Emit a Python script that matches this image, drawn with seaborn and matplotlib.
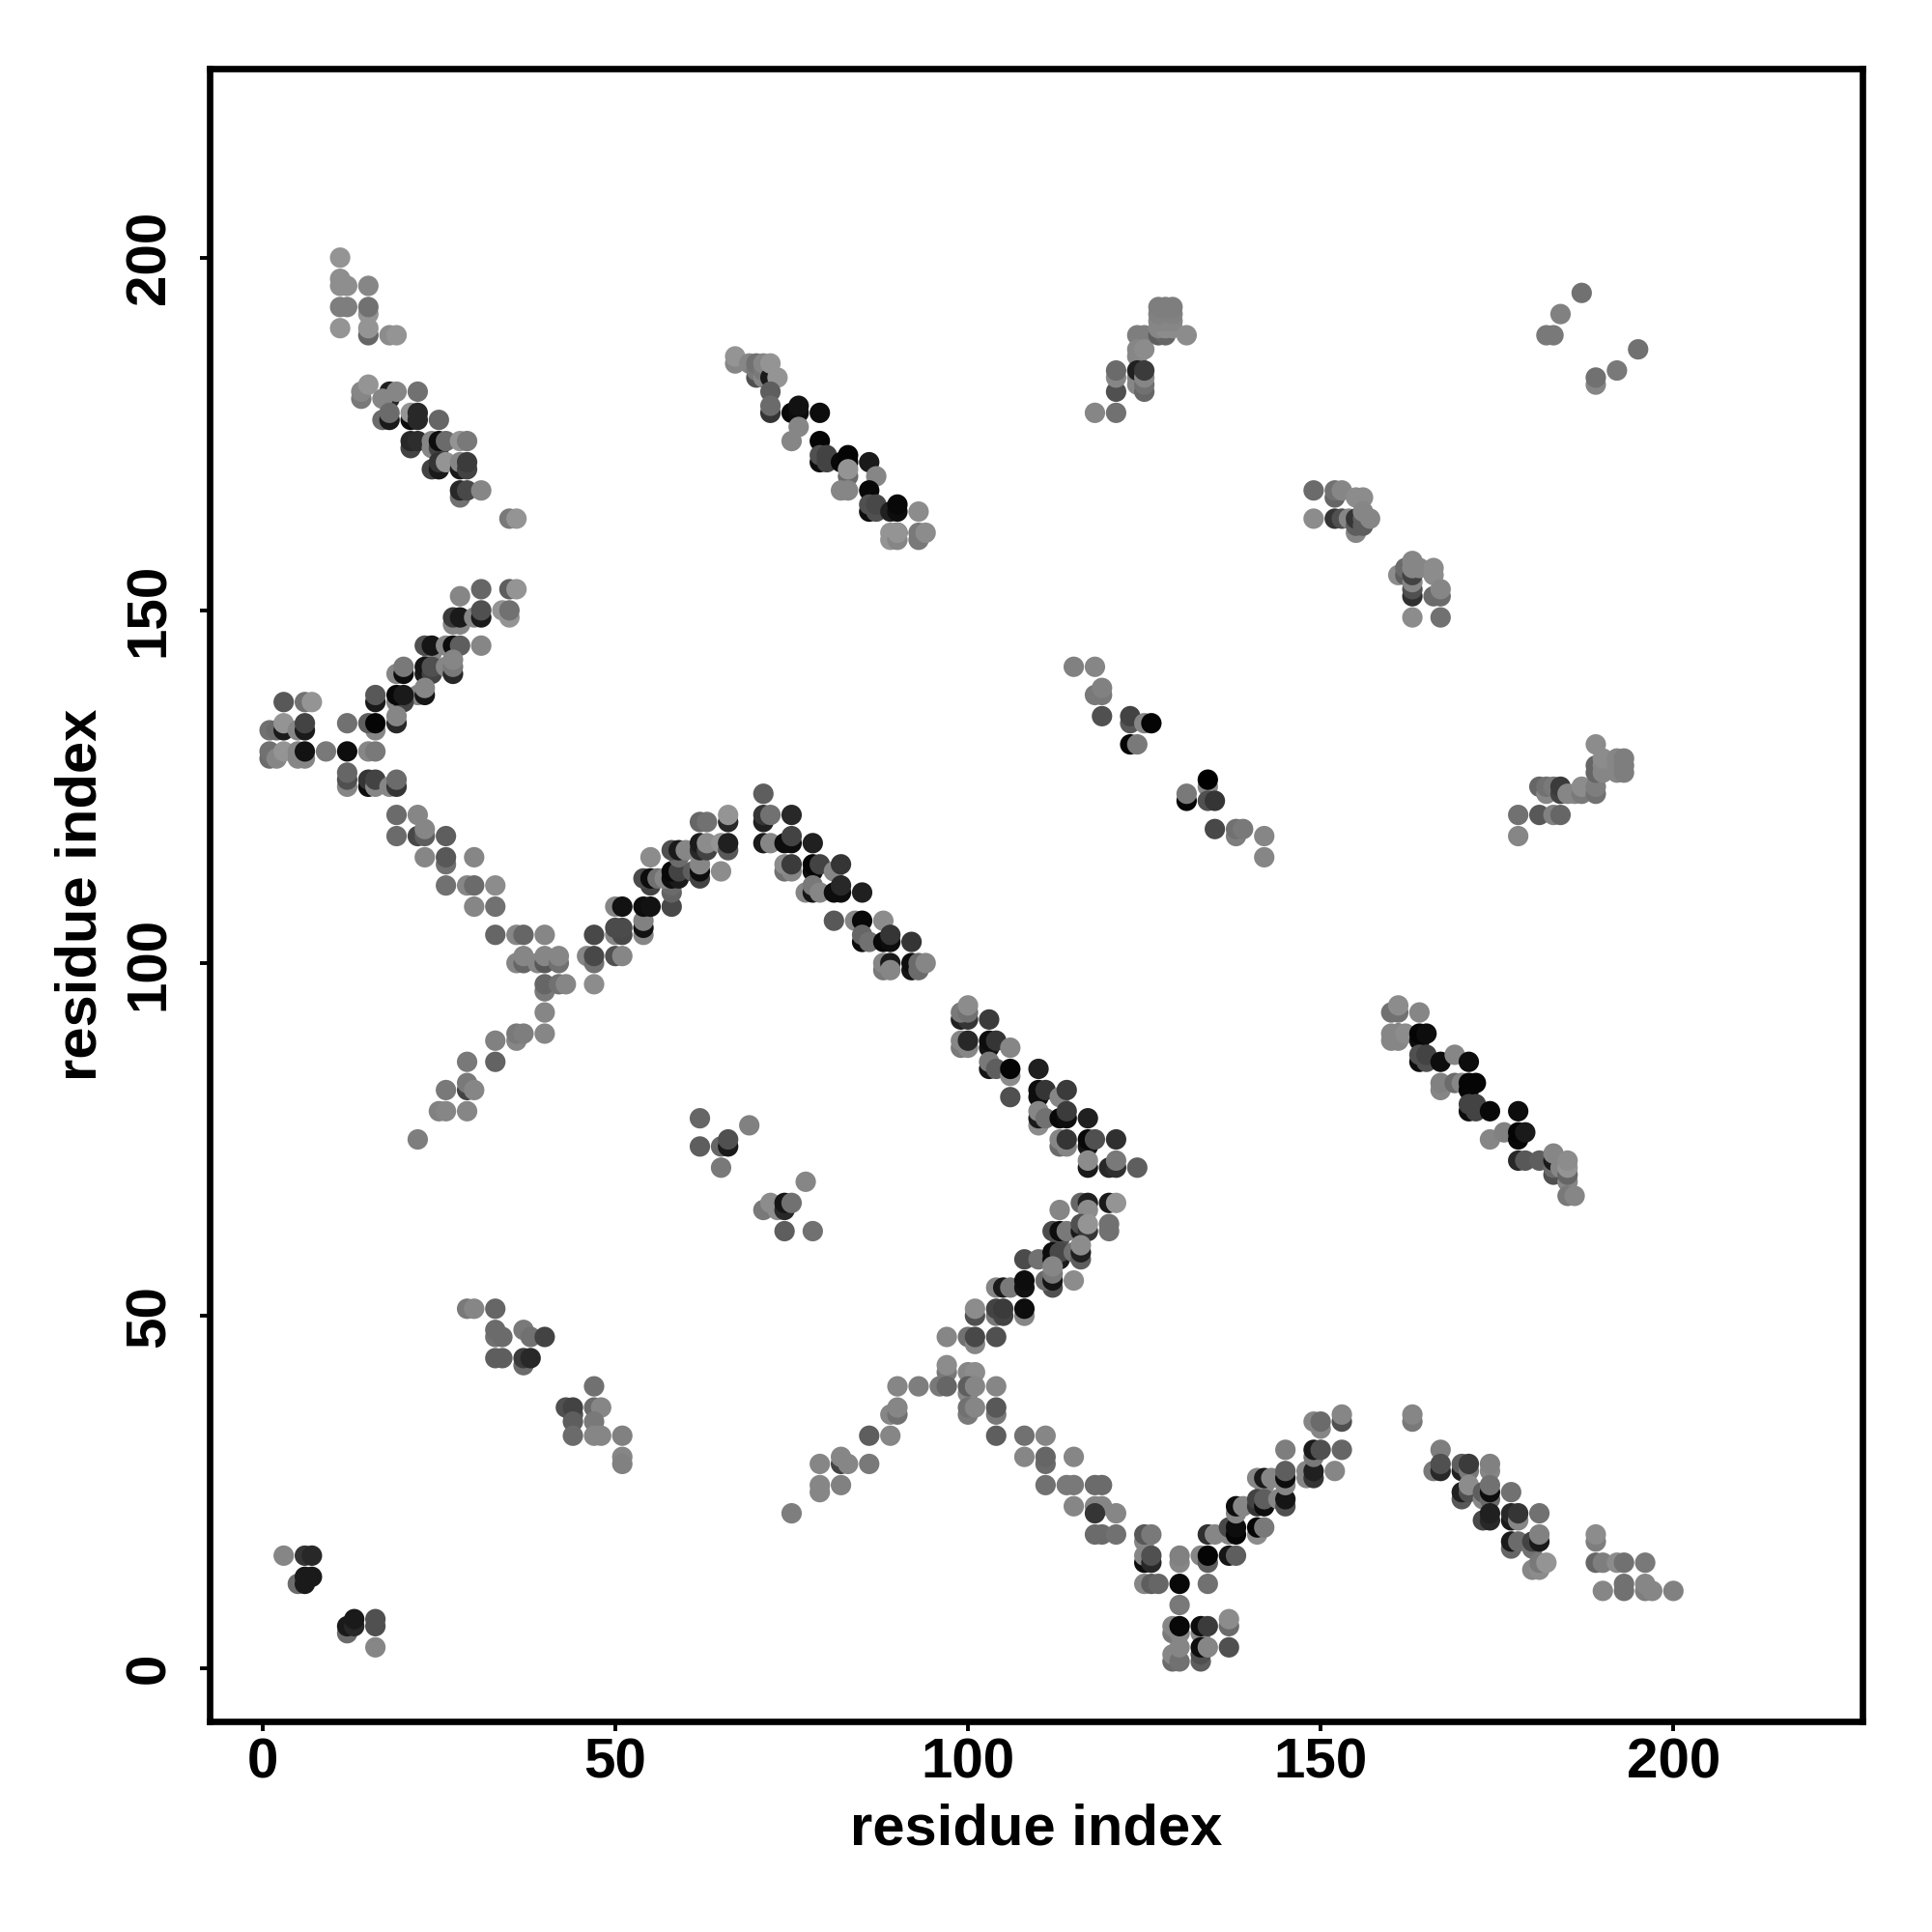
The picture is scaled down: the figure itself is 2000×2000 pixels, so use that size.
import pandas as pd
import matplotlib
matplotlib.use("Agg")
import matplotlib.pyplot as plt
import seaborn as sns

# contacts: (residue i, residue j, grey level)
block_top_left = [
    (11,200,.55),(11,197,.53),(11,196,.53),(12,196,.53),(15,196,.5),(11,193,.47),(12,193,.47),
    (15,192,.55),(15,193,.42),(11,190,.55),(15,189,.38),(15,190,.55),(18,189,.52),(19,189,.55),
    (14,180,.45),(14,181,.5),(15,182,.55),(18,181,.12),(18,180,.15),(17,180,.5),(19,181,.5),(22,181,.42),
    (17,177,.4),(18,177,.1),(18,178,.4),(21,177,.05),(21,178,.55),(22,177,.15),(22,178,.15),(25,177,.38),
    (21,173,.25),(21,174,.15),(22,174,.17),(24,173,.5),(24,174,.5),(25,173,.25),(25,174,.05),(26,174,.4),(28,174,.55),(29,174,.45),
    (24,170,.25),(25,170,.1),(25,171,.2),(26,171,.55),(28,170,.1),(28,171,.5),(29,170,.25),(29,171,.22),
    (28,166,.42),(28,167,.15),(29,167,.27),(31,167,.5),(35,163,.45),(36,163,.55),
]
block_left_up = [
    (28,152,.5),(31,153,.38),(35,153,.35),(36,153,.55),
    (27,148,.5),(28,148,.5),(27,149,.22),(28,149,.1),(30,149,.5),(31,149,.1),(31,150,.3),
    (35,149,.55),(34,150,.55),(35,150,.42),
    (24,144,.5),(23,145,.3),(24,145,.08),(26,145,.5),(27,145,.05),(28,145,.35),(31,145,.5),
    (19,141,.5),(20,141,.05),(20,142,.45),(23,141,.1),(23,142,.08),(24,141,.25),(24,142,.3),
    (26,142,.5),(27,141,.15),(27,142,.45),(27,143,.5),
    (22,138,.5),(23,138,.08),(23,139,.5),(19,137,.5),(20,137,.25),(19,138,.03),(20,138,.1),
    (19,134,.15),(19,135,.5),(16,137,.1),(16,138,.33),
    (12,134,.42),(16,133,.5),(15,134,.35),(16,134,.02),
]
block_left_knot = [
    (3,137,.33),(6,137,.42),(7,137,.55),(1,133,.42),(2,133,.4),(3,133,.1),(3,134,.55),(5,133,.5),
    (6,133,.1),(6,134,.25),(1,129,.4),(1,130,.42),(2,129,.5),(3,130,.55),(5,129,.5),(5,130,.5),
    (6,129,.5),(6,130,.07),(9,130,.45),(12,130,.05),(15,130,.5),(16,130,.45),
    (12,125,.5),(12,126,.3),(12,127,.38),(15,125,.05),(15,126,.2),(16,125,.5),(16,126,.25),
    (18,125,.5),(19,125,.2),(19,126,.4),
]
block_left_down = [
    (19,121,.4),(22,121,.5),(19,118,.4),(22,118,.27),(23,118,.35),(23,119,.5),(26,118,.35),
    (23,115,.5),(26,114,.42),(26,115,.33),(30,115,.5),(26,111,.42),(29,111,.5),(30,111,.4),(33,111,.52),
    (30,108,.5),(33,108,.42),(33,104,.38),(36,104,.5),(37,104,.38),(40,104,.5),
    (36,100,.5),(37,100,.38),(37,101,.5),(39,100,.5),(40,100,.33),(40,101,.5),(42,100,.42),(42,101,.5),
    (40,96,.45),(40,97,.38),(42,97,.42),(43,97,.5),(47,97,.52),(40,93,.5),(40,90,.5),
    (36,89,.5),(36,90,.45),(37,90,.47),(33,89,.48),(29,86,.45),(33,86,.37),
    (29,82,.25),(29,83,.45),(30,82,.5),(26,82,.45),(25,79,.48),(26,79,.5),(29,79,.5),(22,75,.47),
]
block_mid_up = [
    (46,101,.5),(47,100,.42),(47,101,.27),(47,104,.27),(50,101,.3),(51,101,.5),
    (50,104,.5),(51,104,.27),(50,105,.28),(51,105,.28),(50,108,.5),(51,108,.07),
    (54,104,.5),(54,105,.07),(54,106,.48),(54,108,.05),(55,108,.07),
    (58,108,.27),(58,110,.37),(58,111,.4),(55,111,.25),(54,112,.28),(55,112,.05),(56,112,.42),(55,115,.52),
    (57,112,.5),(58,112,.05),(59,112,.1),(58,113,.03),(59,113,.25),(59,115,.4),(58,116,.3),(59,116,.1),(60,116,.5),
    (61,113,.35),(62,112,.25),(62,113,.05),(62,114,.5),(65,113,.52),
    (62,116,.15),(62,117,.1),(63,116,.25),(63,117,.52),(65,117,.55),(66,116,.33),(66,117,.12),
    (62,120,.38),(63,120,.42),(66,120,.15),(66,121,.55),
]
block_mid_down = [
    (71,124,.35),(71,120,.12),(71,121,.2),(72,121,.42),(75,121,.15),
    (71,117,.1),(72,117,.5),(74,117,.05),(75,117,.05),(75,118,.25),(78,117,.12),
    (74,113,.42),(75,113,.5),(74,114,.52),(75,114,.22),(78,113,.05),(78,114,.02),(79,114,.25),(81,113,.5),(82,114,.2),
    (77,110,.5),(78,110,.08),(78,111,.45),(79,110,.5),(81,110,.05),(82,110,.05),(82,111,.15),(85,110,.12),
    (81,106,.33),(84,106,.5),(85,106,.03),(88,106,.52),
    (85,103,.05),(85,104,.38),(86,103,.42),(88,103,.03),(89,103,.05),(89,104,.2),(92,103,.2),
    (88,99,.45),(88,100,.5),(89,100,.1),(89,99,.5),(92,99,.08),(92,100,.05),(93,99,.4),(93,100,.4),(94,100,.5),
]
block_top_mid = [
    (67,185,.5),(67,186,.55),(69,185,.5),(70,183,.3),(70,184,.45),(70,185,.42),(71,183,.5),(71,184,.45),
    (71,185,.5),(72,183,.1),(72,185,.55),(73,183,.55),(72,181,.35),(72,178,.2),(72,179,.4),
    (75,178,.03),(76,178,.05),(76,179,.07),(79,178,.05),(76,176,.5),(75,174,.5),
    (79,174,.02),(79,171,.05),(79,172,.3),(80,171,.25),(80,172,.25),(82,171,.03),(83,171,.02),(83,172,.02),(86,171,.1),
    (83,169,.4),(83,170,.55),(82,167,.5),(83,167,.5),(87,169,.5),(86,167,.03),
    (86,164,.05),(86,165,.3),(87,164,.3),(87,165,.27),(89,164,.12),(90,164,.05),(90,165,.03),(93,164,.52),
    (90,161,.12),(89,160,.55),(89,161,.55),(90,160,.5),(90,161,.55),(93,160,.45),(93,161,.45),(94,161,.52),
]
block_center_right = [
    (99,92,.12),(100,92,.2),(99,93,.45),(100,93,.42),(100,94,.52),(103,92,.22),
    (99,88,.45),(99,89,.5),(100,88,.5),(100,89,.15),(103,88,.08),(103,89,.05),(104,89,.2),(106,88,.5),
    (103,85,.08),(103,86,.45),(104,85,.35),(106,84,.52),(106,85,.02),(110,85,.12),(106,81,.3),
    (110,81,.05),(110,82,.05),(111,82,.2),(113,81,.5),(114,82,.22),
    (110,77,.52),(110,78,.1),(110,79,.5),(111,78,.42),(113,78,.03),(114,78,.05),(114,79,.22),(117,78,.12),
    (113,74,.4),(113,75,.5),(114,74,.5),(114,75,.2),(117,74,.08),(117,75,.03),(118,75,.3),(121,75,.18),
    (117,71,.1),(117,72,.52),(120,71,.15),(121,71,.18),(121,72,.45),(124,71,.35),
]
block_center_up = [
    (113,65,.5),(116,66,.38),(117,66,.12),(117,65,.52),(120,66,.1),(121,66,.55),
    (112,62,.28),(113,61,.3),(113,62,.05),(114,62,.45),(116,62,.1),(116,63,.3),(117,62,.2),(117,63,.55),
    (120,62,.42),(120,63,.42),(108,58,.28),(110,58,.42),(112,58,.05),(112,59,.05),(113,58,.1),(113,59,.27),
    (115,59,.42),(116,58,.35),(116,59,.12),(116,60,.52),(115,55,.52),
    (112,54,.3),(111,55,.4),(112,55,.08),(112,56,.45),(112,57,.5),
    (104,54,.5),(105,54,.1),(106,54,.45),(108,54,.07),(108,55,.05),
    (108,50,.5),(108,51,.05),(104,50,.45),(105,50,.25),(104,51,.25),(105,51,.22),(101,50,.3),(101,51,.52),
    (97,47,.5),(100,47,.42),(101,46,.5),(101,47,.27),(104,47,.3),
    (97,42,.45),(97,43,.52),(100,42,.5),(101,42,.52),(90,40,.5),(93,40,.47),(96,40,.45),(97,40,.38),
    (100,39,.5),(100,40,.35),(101,40,.5),(104,40,.5),(89,36,.5),(90,36,.42),(90,37,.5),
    (100,36,.45),(100,37,.42),(101,37,.5),(104,36,.45),(104,37,.33),
    (86,33,.35),(89,33,.5),(79,25,.5),(79,26,.5),(79,29,.5),(82,26,.48),(82,29,.25),(82,30,.5),(83,29,.5),(86,29,.45),(75,22,.47),
]
block_center_down = [
    (104,33,.35),(108,33,.42),(111,33,.5),(108,30,.5),(111,29,.4),(111,30,.38),(115,30,.5),
    (111,26,.42),(114,26,.45),(115,26,.45),(115,23,.5),(118,26,.4),(118,23,.5),(119,23,.5),(118,22,.2),
    (119,26,.4),(118,19,.4),(119,19,.4),(121,22,.5),(121,19,.42),
]
block_bottom_vee = [
    (125,18,.5),(125,19,.33),(126,19,.45),(125,15,.05),(125,16,.5),(126,15,.15),(126,16,.3),
    (125,12,.5),(126,12,.35),(127,12,.38),(130,12,.03),(134,12,.42),
    (130,15,.5),(130,16,.48),(133,16,.5),(134,15,.35),(134,16,.02),(137,16,.08),(138,16,.35),
    (130,9,.45),(129,5,.45),(129,6,.5),(130,5,.5),(130,6,.03),(133,5,.5),(133,6,.05),(134,6,.22),
    (137,6,.4),(137,7,.52),(129,1,.4),(129,2,.5),(130,1,.42),(130,3,.5),(133,1,.35),(133,2,.3),(133,3,.05),(134,3,.5),(137,3,.3),
    (134,19,.18),(135,19,.5),(137,19,.5),(137,20,.27),(138,19,.02),(138,20,.05),
    (138,22,.5),(138,23,.05),(139,23,.5),(141,19,.52),(141,20,.02),(142,20,.45),
    (141,27,.5),(142,26,.5),(142,27,.1),(143,27,.5),(141,23,.2),(141,24,.25),(142,23,.05),(142,24,.35),
    (144,24,.5),(145,23,.3),(145,24,.08),(145,26,.5),(145,27,.05),(145,28,.35),(145,31,.47),
    (148,27,.5),(148,28,.5),(149,27,.2),(149,28,.12),(152,28,.5),(149,30,.45),(149,31,.1),(150,31,.3),(153,31,.38),
    (149,35,.5),(150,34,.5),(150,35,.4),(153,35,.3),(153,36,.5),
]
block_bottom_right = [
    (163,35,.45),(163,36,.5),(167,31,.47),(166,28,.45),(167,28,.15),(167,29,.3),
    (170,28,.12),(170,29,.35),(171,28,.45),(171,29,.22),(174,28,.5),(174,29,.48),
    (170,24,.33),(170,25,.12),(171,25,.3),(171,26,.52),(173,24,.5),(173,25,.35),(174,24,.4),(174,25,.05),(174,26,.42),(177,25,.42),
    (173,21,.27),(174,21,.15),(174,22,.12),(177,21,.1),(177,22,.15),(178,21,.5),(178,22,.2),(181,22,.42),
    (177,17,.38),(177,18,.1),(178,18,.4),(180,17,.42),(180,18,.25),(181,18,.1),(181,19,.48),
    (180,14,.5),(181,14,.52),(181,15,.45),(182,15,.55),(189,18,.47),(189,19,.52),
    (189,15,.38),(190,15,.47),(192,15,.52),(193,15,.42),(196,15,.45),
    (190,11,.5),(193,11,.42),(193,12,.42),(196,11,.47),(196,12,.5),(197,11,.5),(200,11,.48),
]
block_right_long = [
    (160,93,.42),(161,93,.42),(161,94,.52),(164,93,.5),
    (161,90,.12),(160,89,.5),(160,90,.5),(161,89,.5),(161,90,.5),(162,90,.52),
    (164,89,.05),(164,90,.02),(165,90,.05),(164,86,.05),(164,87,.3),(165,86,.3),(165,87,.25),(167,86,.05),(169,87,.5),(171,86,.05),
    (167,82,.5),(167,83,.48),(169,83,.4),(170,83,.5),(171,82,.02),(171,83,.02),(172,83,.02),
    (171,79,.05),(171,80,.25),(172,79,.25),(172,80,.25),(174,79,.03),(178,79,.05),
    (174,75,.5),(176,76,.48),(178,75,.03),(178,76,.02),(179,76,.1),
    (178,72,.15),(179,72,.33),(181,72,.35),(183,70,.3),(183,71,.4),(183,72,.1),(183,73,.5),
    (184,71,.5),(185,69,.5),(185,70,.38),(185,71,.55),(185,72,.52),(185,67,.45),(186,67,.5),
]
block_top_right = [
    (118,178,.5),(121,178,.42),(121,181,.3),(121,183,.5),(121,184,.4),
    (124,189,.47),(125,189,.47),(124,186,.5),(124,187,.5),(125,187,.52),(124,182,.5),(124,183,.5),(124,184,.12),
    (125,181,.38),(125,182,.42),(125,183,.5),(125,184,.22),
    (127,189,.35),(128,189,.38),(127,190,.5),(128,190,.52),(129,190,.52),(127,191,.5),(128,191,.5),(129,191,.5),
    (127,192,.48),(129,192,.48),(127,193,.47),(128,193,.47),(129,193,.47),(131,189,.52),
    (149,167,.4),(152,166,.38),(152,167,.42),(153,167,.5),(155,166,.52),(156,166,.52),
    (149,163,.52),(152,163,.2),(153,163,.3),(154,163,.5),(155,161,.5),(155,162,.35),(155,163,.2),
    (156,162,.35),(156,163,.35),(156,164,.5),(157,163,.5),
    (161,155,.52),(162,155,.35),(162,156,.4),(163,152,.18),(163,153,.3),(163,154,.5),(163,155,.25),(163,156,.5),(163,157,.5),
    (164,156,.5),(166,152,.4),(166,155,.52),(166,156,.52),(167,152,.4),(167,153,.5),(163,149,.52),(167,149,.42),
]
block_right_mid = [
    (115,142,.48),(118,142,.5),(118,138,.45),(119,138,.45),(119,139,.48),(119,135,.3),
    (123,134,.33),(123,135,.25),(125,134,.5),(126,134,.02),(123,131,.02),(124,131,.45),
    (134,125,.5),(134,126,.0),(131,123,.02),(131,124,.45),(134,123,.3),(135,123,.2),
    (135,119,.27),(138,118,.47),(138,119,.42),(139,119,.45),(142,118,.5),(142,115,.5),
    (178,121,.42),(181,121,.33),(183,121,.48),(184,121,.38),(178,118,.5),
    (181,125,.38),(182,124,.5),(182,125,.42),(183,125,.45),(184,124,.25),(184,125,.22),(185,124,.5),(186,124,.5),
    (187,124,.45),(187,125,.52),(189,124,.42),(189,125,.47),(189,131,.52),
    (189,127,.38),(189,128,.38),(190,127,.5),(190,128,.5),(190,129,.52),
    (192,127,.5),(192,128,.5),(192,129,.5),(193,127,.47),(193,128,.47),(193,129,.47),
]
block_small = [
    (3,16,.5),(6,16,.2),(7,16,.15),(5,12,.4),(6,12,.1),(6,13,.1),(7,13,.1),
    (12,5,.4),(12,6,.1),(13,6,.15),(13,7,.1),(16,6,.3),(16,7,.3),(16,3,.5),
    (62,78,.38),(62,74,.35),(65,74,.38),(65,71,.45),(66,74,.1),(66,75,.3),(69,77,.48),
    (77,69,.5),(71,65,.45),(72,66,.52),(73,65,.52),(74,65,.15),(74,66,.08),(75,66,.42),(74,62,.35),(78,62,.42),
    (29,51,.45),(30,51,.5),(33,51,.38),(33,47,.42),(33,48,.4),(34,47,.4),(37,48,.45),(38,47,.42),(40,47,.25),
    (33,44,.35),(34,44,.35),(37,43,.4),(37,44,.22),(38,44,.15),
    (47,40,.42),(43,37,.3),(44,36,.3),(44,37,.25),(47,37,.4),(48,37,.5),(44,35,.35),(44,33,.4),
    (47,35,.45),(47,33,.5),(48,33,.5),(51,33,.48),(51,30,.5),(51,29,.48),
    (187,195,.42),(184,192,.48),(182,189,.45),(183,189,.45),(189,182,.5),(189,183,.42),(192,184,.45),(195,187,.42),
]
tick_values = [0, 50, 100, 150, 200]

blocks = [block_top_left, block_left_up, block_left_knot, block_left_down, block_mid_up,
          block_mid_down, block_top_mid, block_center_right, block_center_up, block_center_down,
          block_bottom_vee, block_bottom_right, block_right_long, block_top_right,
          block_right_mid, block_small]
df = pd.DataFrame([p for b in blocks for p in b], columns=["i", "j", "shade"])

sns.set_style("white")
plt.rcParams['font.family'] = ['Liberation Sans', 'DejaVu Sans']

fig = plt.figure(figsize=(10, 10), dpi=200)
ax = fig.add_axes([217/2000, 1 - 1782/2000, (1928-217)/2000, (1782-71)/2000])

sns.scatterplot(data=df, x="i", y="j", hue="shade", palette="gray", hue_norm=(0, 0.95),
                s=58, linewidth=0, legend=False, ax=ax)

ax.set_xlim(-7.5, 226.8)
ax.set_ylim(-7.5, 226.8)
ax.set_xticks(tick_values)
ax.set_yticks(tick_values)
ax.set_xticklabels(tick_values, fontsize=21, fontweight="bold", color="black")
ax.set_yticklabels(tick_values, fontsize=21, fontweight="bold", color="black", rotation=90, va="center")
ax.tick_params(axis="both", direction="out", length=3.5, width=1.4, color="black", left=True, bottom=True)
ax.tick_params(axis="x", pad=2.5)
ax.tick_params(axis="y", pad=9)
ax.set_xlabel("residue index", fontsize=21.5, fontweight="bold", color="black", labelpad=5)
ax.set_ylabel("residue index", fontsize=21.5, fontweight="bold", color="black", labelpad=6)
for side in ax.spines.values():
    side.set_visible(True)
    side.set_color("black")
    side.set_linewidth(2.4)

fig.savefig("out.png", dpi=200)
